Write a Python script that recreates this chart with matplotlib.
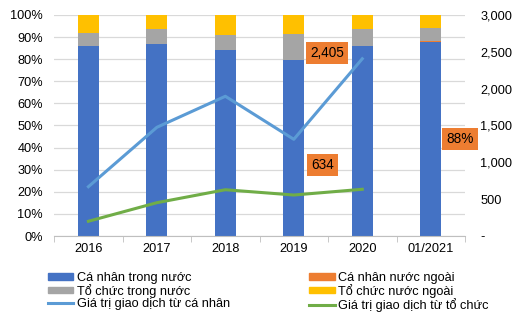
import numpy as np
import matplotlib.pyplot as plt
from matplotlib.patches import Patch
from matplotlib.lines import Line2D
from matplotlib.ticker import FuncFormatter

plt.rcParams['font.family'] = ['Liberation Sans', 'DejaVu Sans']
plt.rcParams['font.size'] = 9.2

years = ["2016", "2017", "2018", "2019", "2020", "01/2021"]
# cơ cấu giao dịch (%)
ca_nhan_trong = [85.8, 86.7, 84.0, 79.5, 85.8, 87.8]
ca_nhan_ngoai = [0.3, 0.3, 0.3, 0.3, 0.3, 0.6]
to_chuc_trong = [5.8, 6.4, 6.7, 11.7, 7.3, 5.9]
to_chuc_ngoai = [8.1, 6.6, 9.0, 8.5, 6.6, 5.7]
# giá trị giao dịch (tỷ đồng)
gt_ca_nhan = [669, 1475, 1896, 1312, 2405]
gt_to_chuc = [200, 452, 628, 556, 634]

c_blue, c_orange, c_gray, c_yellow = "#4472C4", "#ED7D31", "#A5A5A5", "#FFC000"
c_line1, c_line2 = "#5B9BD5", "#70AD47"

fig = plt.figure(figsize=(5.26, 3.17), dpi=100)
ax = fig.add_axes([0.103, 0.2555, 0.781, 0.6975])
x = np.arange(len(years))
w = 0.31

b = np.zeros(len(years))
for vals, col in [(ca_nhan_trong, c_blue), (ca_nhan_ngoai, c_orange),
                  (to_chuc_trong, c_gray), (to_chuc_ngoai, c_yellow)]:
    ax.bar(x, vals, w, bottom=b, color=col, zorder=2)
    b += np.array(vals)

ax.set_ylim(0, 100)
ax.set_xlim(-0.5, len(years) - 0.5)
ax.set_yticks(np.arange(0, 101, 10))
ax.yaxis.set_major_formatter(FuncFormatter(lambda v, p: f"{v:.0f}%"))
ax.grid(axis='y', color="#D9D9D9", lw=0.9, zorder=0)
ax.set_axisbelow(True)
ax.set_xticks(x)
ax.set_xticklabels(years)
ax.set_xticks(np.arange(-0.5, len(years)), minor=True)
ax.tick_params(axis='x', which='major', length=0, pad=5)
ax.tick_params(axis='x', which='minor', length=4, color="#BFBFBF")
ax.tick_params(axis='y', length=0, pad=8)
for s in ['top', 'right', 'left']:
    ax.spines[s].set_visible(False)
ax.spines['bottom'].set_color("#BFBFBF")

ax2 = ax.twinx()
ax2.plot(x[:len(gt_ca_nhan)], gt_ca_nhan, color=c_line1, lw=2.2, zorder=3)
ax2.plot(x[:len(gt_to_chuc)], gt_to_chuc, color=c_line2, lw=2.2, zorder=3)
ax2.set_ylim(0, 3000)
ax2.set_yticks(np.arange(0, 3001, 500))
ax2.yaxis.set_major_formatter(FuncFormatter(lambda v, p: "-" if v == 0 else f"{v:,.0f}"))
ax2.tick_params(axis='y', length=0, pad=11)
for s in ax2.spines.values():
    s.set_visible(False)

box = dict(boxstyle="square,pad=0.3", fc=c_orange, ec="none")
ax2.annotate(f"{gt_ca_nhan[-1]:,}", xy=(4, gt_ca_nhan[-1]), xytext=(-35, 6),
             textcoords='offset pixels', ha='center', va='center', bbox=box, fontsize=9.8)
ax2.annotate(f"{gt_to_chuc[-1]:,}", xy=(4, gt_to_chuc[-1]), xytext=(-40, 24),
             textcoords='offset pixels', ha='center', va='center', bbox=box, fontsize=9.8)
ax.annotate(f"{ca_nhan_trong[-1]:.0f}%", xy=(5, ca_nhan_trong[-1] / 2), xytext=(29, 0),
            textcoords='offset pixels', ha='center', va='center', bbox=box, fontsize=9.8,
            annotation_clip=False)

handles = [Patch(color=c_blue), Patch(color=c_gray), Line2D([], [], color=c_line1, lw=2.2),
           Patch(color=c_orange), Patch(color=c_yellow), Line2D([], [], color=c_line2, lw=2.2)]
labels = ["Cá nhân trong nước", "Tổ chức trong nước", "Giá trị giao dịch từ cá nhân",
          "Cá nhân nước ngoài", "Tổ chức nước ngoài", "Giá trị giao dịch từ tổ chức"]
fig.legend(handles, labels, ncol=2, loc='upper left', bbox_to_anchor=(0.091, 0.143),
           frameon=False, handlelength=2.0, handleheight=0.45, handletextpad=0.25,
           columnspacing=6.2, labelspacing=0.0, borderpad=0, borderaxespad=0)

fig.savefig("out.png", dpi=100)
